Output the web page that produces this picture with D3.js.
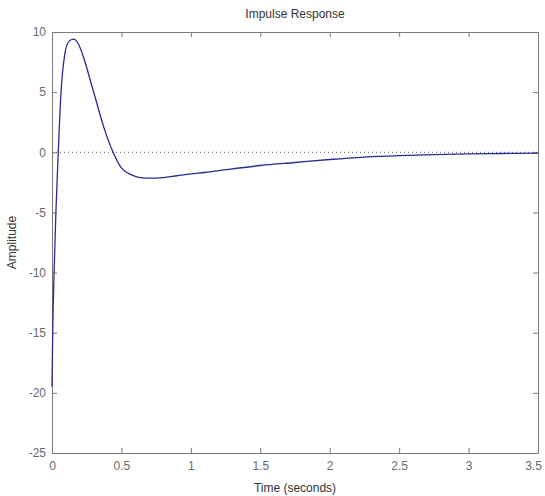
<!DOCTYPE html>
<meta charset="utf-8">
<script src="https://cdn.jsdelivr.net/npm/d3@7"></script>
<style>
	body{margin:0;background:#fff;font-family:"Liberation Sans",Arial,sans-serif;}
	.tick text{fill:#6a6a6a;font-size:12px;font-family:"Liberation Sans",Arial,sans-serif;}
	.lbl{fill:#333;font-size:12px;}
</style>
<div id="chart"></div>
<script>
// impulse response
var time = [0,0.005,0.015,0.028,0.045,0.065,0.09,0.12,0.155,0.19,0.23,0.28,0.32,0.37,0.44,0.5,0.55,0.6,0.65,0.7,0.8,0.9,1.0,1.1,1.25,1.5,1.75,2.0,2.25,2.5,2.75,3.0,3.25,3.5]
var amplitude = [-19.5,-15,-10,-5,0,5,8,9.2,9.4,9.0,7.8,5.8,4.2,2.2,0,-1.3,-1.75,-2.0,-2.12,-2.15,-2.1,-1.95,-1.8,-1.68,-1.45,-1.1,-0.85,-0.6,-0.4,-0.28,-0.2,-0.14,-0.1,-0.07]
var xTicks = [0,0.5,1,1.5,2,2.5,3,3.5]
var yTicks = [-25,-20,-15,-10,-5,0,5,10]

var width = 545, height = 496
var m = {top:32,right:7,bottom:43,left:52}
var w = width-m.left-m.right, h = height-m.top-m.bottom

var svg = d3.select("#chart").append("svg")
	.attr("width",width)
	.attr("height",height)

var g = svg.append("g").attr("transform","translate("+m.left+","+m.top+")")

var xScale = d3.scaleLinear().domain([0,3.5]).range([0,w])
var yScale = d3.scaleLinear().domain([-25,10]).range([h,0])

// plain hyphen minus like the original
var fmt = function(d){return String(d)}

// axes, ticks pointing inward like matlab
var xAxisG = g.append("g").attr("transform","translate(0,"+h+")")
	.call(d3.axisBottom(xScale).tickValues(xTicks).tickFormat(fmt).tickSizeInner(-5).tickSizeOuter(0).tickPadding(8))
// last label sits against the window edge, pull it in a little
xAxisG.selectAll(".tick text").filter(function(d){return d==3.5}).attr("dx","-5")

g.append("g")
	.call(d3.axisTop(xScale).tickValues(xTicks).tickFormat("").tickSizeInner(-5).tickSizeOuter(0))
g.append("g")
	.call(d3.axisLeft(yScale).tickValues(yTicks).tickFormat(fmt).tickSizeInner(-5).tickSizeOuter(0).tickPadding(6))
g.append("g").attr("transform","translate("+w+",0)")
	.call(d3.axisRight(yScale).tickValues(yTicks).tickFormat("").tickSizeInner(-5).tickSizeOuter(0))

g.selectAll(".domain").attr("stroke","#7a7a7a")
g.selectAll(".tick line").attr("stroke","#7a7a7a")

// zero reference line
g.append("line")
	.attr("x1",0).attr("x2",w)
	.attr("y1",yScale(0)).attr("y2",yScale(0))
	.attr("stroke","#555")
	.attr("stroke-dasharray","1,3")

var data = time.map(function(t,i){return {t:t,v:amplitude[i]}})

g.append("path")
	.datum(data)
	.attr("fill","none")
	.attr("stroke","#2a2a96")
	.attr("stroke-width",1.3)
	.attr("d",d3.line()
		.curve(d3.curveMonotoneX)
		.x(function(d){return xScale(d.t)})
		.y(function(d){return yScale(d.v)}))

svg.append("text").attr("class","lbl")
	.attr("x",m.left+w/2).attr("y",18)
	.attr("text-anchor","middle")
	.text("Impulse Response")

svg.append("text").attr("class","lbl")
	.attr("x",m.left+w/2).attr("y",492)
	.attr("text-anchor","middle")
	.text("Time (seconds)")

svg.append("text").attr("class","lbl")
	.attr("transform","translate(16,"+(m.top+h/2)+") rotate(-90)")
	.attr("text-anchor","middle")
	.text("Amplitude")
</script>
